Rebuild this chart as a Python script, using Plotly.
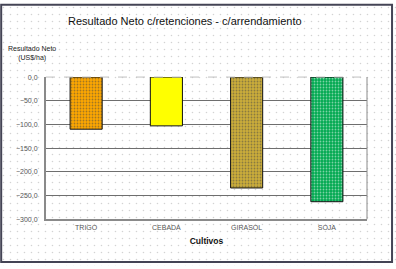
import plotly.graph_objects as go

categories = ["TRIGO", "CEBADA", "GIRASOL", "SOJA"]
values = [-110.0, -103.0, -234.0, -263.0]
bar_colors = ["#FFA800", "#FFFF00", "#CCAE3A", "#00A850"]
pattern_fg = ["#FFC830", "#FFFF00", "#C49A48", "#08BA58"]
pattern_shapes = [".", "", ".", "."]
y_ticks = [0, -50, -100, -150, -200, -250, -300]

W, H = 396, 269
pl, pr, pt, pb = 46, 367, 75, 221

fig = go.Figure()

# decorative dotted background (full paper)
fig.add_trace(go.Bar(
    x=[0.5], y=[1], width=[1], base=[0],
    marker=dict(color="white", line=dict(width=0),
                pattern=dict(shape=".", fgcolor="#A8A8A8", bgcolor="white",
                             size=7, solidity=0.04)),
    xaxis="x", yaxis="y", hoverinfo="skip", showlegend=False))

fig.add_trace(go.Bar(
    x=categories, y=values, width=0.4,
    marker=dict(color=bar_colors, line=dict(color="#111111", width=1),
                pattern=dict(shape=pattern_shapes, fgcolor=pattern_fg,
                             size=3, solidity=0.3)),
    xaxis="x2", yaxis="y2", showlegend=False))

fig.update_layout(
    width=W, height=H,
    margin=dict(l=0, r=0, t=0, b=0),
    paper_bgcolor="white",
    plot_bgcolor="rgba(0,0,0,0)",
    separators=",.",
    font=dict(family="Liberation Sans, Arial, sans-serif", color="#333333"),
    xaxis=dict(domain=[0, 1], range=[0, 1], visible=False, fixedrange=True),
    yaxis=dict(domain=[0, 1], range=[0, 1], visible=False, fixedrange=True),
    xaxis2=dict(domain=[pl / W, pr / W], anchor="y2",
                showgrid=False, zeroline=False, showline=True,
                linecolor="#8A8A8A", linewidth=2,
                tickfont=dict(size=7, color="#555555"), ticks="",
                title=dict(text="<b>Cultivos</b>", font=dict(size=8.5, color="#111111"),
                           standoff=8)),
    yaxis2=dict(domain=[1 - pb / H, 1 - pt / H], anchor="x2",
                range=[-300, 0], tickvals=y_ticks, tickformat=".1f",
                showgrid=True, gridcolor="#6E6E6E", gridwidth=1,
                zeroline=False, showline=True, linecolor="#8A8A8A", linewidth=2,
                ticks="", ticklabelstandoff=5,
                tickfont=dict(size=7, color="#555555")),
    shapes=[
        dict(type="line", xref="x2 domain", yref="y2 domain", x0=0, x1=1, y0=1, y1=1,
             line=dict(color="#C0C0C0", width=1, dash="dash")),
        dict(type="line", xref="x2 domain", yref="y2 domain", x0=1, x1=1, y0=0, y1=1,
             line=dict(color="#8A8A8A", width=1)),
        dict(type="rect", xref="paper", yref="paper", x0=0.003, x1=0.99, y0=0.015, y1=0.997,
             line=dict(color="#444455", width=2)),
    ],
    annotations=[
        dict(text="Resultado Neto c/retenciones - c/arrendamiento", xref="paper", yref="paper",
             x=185 / W, y=1 - 17 / H, showarrow=False, xanchor="center", yanchor="middle",
             font=dict(size=11, color="#111111")),
        dict(text="Resultado Neto<br>(US$/ha)", xref="paper", yref="paper",
             x=32 / W, y=1 - 51 / H, showarrow=False, xanchor="center", yanchor="middle",
             font=dict(size=7, color="#222222")),
    ],
    bargap=0.6,
)

fig.write_html("out.html")
